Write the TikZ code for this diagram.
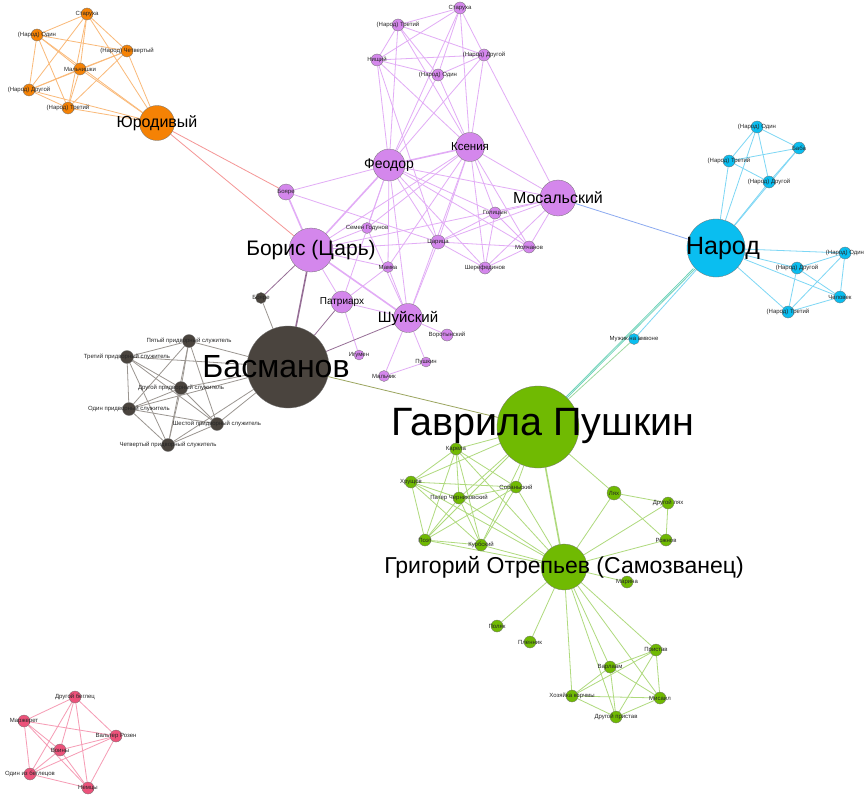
\documentclass[tikz,border=0pt]{standalone}
\usepackage{fontspec}
\setmainfont{Liberation Sans}
\usetikzlibrary{backgrounds}
\definecolor{orF}{RGB}{245,130,5}
\definecolor{orE}{RGB}{250,185,120}
\definecolor{puF}{RGB}{212,135,236}
\definecolor{puE}{RGB}{226,172,246}
\definecolor{blF}{RGB}{10,190,240}
\definecolor{blE}{RGB}{125,215,245}
\definecolor{grF}{RGB}{112,186,2}
\definecolor{grE}{RGB}{175,218,125}
\definecolor{dkF}{RGB}{74,68,62}
\definecolor{dkE}{RGB}{155,150,145}
\definecolor{pkF}{RGB}{236,82,122}
\definecolor{pkE}{RGB}{246,155,180}
\definecolor{mixPD}{RGB}{150,110,150}
\definecolor{mixGD}{RGB}{155,165,95}
\definecolor{mixPB}{RGB}{140,170,240}
\definecolor{mixGB}{RGB}{110,210,185}
\definecolor{mixOP}{RGB}{245,150,150}
\tikzset{
  v/.style={circle, draw=black!55, line width=0.3pt, inner sep=0pt, minimum size=#1},
  lab/.style={font=\fontsize{6}{7}\selectfont, text=black!85, inner sep=0pt},
  big/.style={font=\fontsize{#1}{#1}\selectfont, text=black, inner sep=0pt},
  e/.style={line width=0.8pt},
  ee/.style={line width=1.6pt}
}
% name, position, diameter, fill, label
\newcommand{\sv}[5]{\node[v=#3, fill=#4, label={[lab]center:{#5}}] (#1) at (#2) {};}
\begin{document}
\begin{tikzpicture}[x=1pt,y=-1pt]
\useasboundingbox (0,0) rectangle (864,797);

% ---- orange group
\sv{o1}{87,14}{12}{orF}{Старуха}
\sv{o2}{37,35}{12}{orF}{(Народ) Один}
\sv{o3}{127,51}{12}{orF}{(Народ) Четвертый}
\sv{o4}{80,69}{12}{orF}{Мальчишки}
\sv{o5}{29,90}{12}{orF}{(Народ) Другой}
\sv{o6}{68,108}{12}{orF}{(Народ) Третий}
\node[v=35, fill=orF, label={[big=16]center:Юродивый}] (yur) at (157,123) {};

% ---- violet group
\sv{p1}{460,8}{12}{puF}{Старуха}
\sv{p2}{398,25}{12}{puF}{(Народ) Третий}
\sv{p3}{377,60}{12}{puF}{Нищий}
\sv{p4}{484,55}{12}{puF}{(Народ) Другой}
\sv{p5}{438,75}{12}{puF}{(Народ) Один}
\node[v=29, fill=puF, label={[big=11.5]center:Ксения}] (ks) at (470,147) {};
\node[v=32, fill=puF, label={[big=14]center:Феодор}] (feo) at (389,165) {};
\node[v=36, fill=puF, label={[big=16]center:Мосальский}] (mos) at (558,198) {};
\sv{boy}{286,192}{16}{puF}{Бояре}
\node[v=44, fill=puF, label={[big=21]center:{Борис (Царь)}}] (bor) at (311,250) {};
\sv{sem}{367,228}{11}{puF}{Семен Годунов}
\sv{car}{438,242}{14}{puF}{Царица}
\sv{gol}{495,213}{12}{puF}{Голицын}
\sv{mol}{529,247}{12}{puF}{Молчанов}
\sv{sher}{485,268}{12}{puF}{Шерефединов}
\sv{mam}{388,267}{11}{puF}{Мамка}
\node[v=22, fill=puF, label={[big=10]center:Патриарх}] (pat) at (342,302) {};
\node[v=29, fill=puF, label={[big=15]center:Шуйский}] (shu) at (408,318) {};
\sv{vor}{447,335}{12}{puF}{Воротынский}
\sv{pus}{426,362}{10}{puF}{Пушкин}
\sv{igu}{359,355}{10}{puF}{Игумен}
\sv{mal}{384,376}{11}{puF}{Мальчик}

% ---- dark group
\node[v=82, fill=dkF, label={[big=32, xshift=-12pt]center:Басманов}] (bas) at (288,367) {};
\sv{dboy}{261,298}{11}{dkF}{Бояре}
\sv{d5}{189,341}{13}{dkF}{Пятый придворный служитель}
\sv{d3}{127,357}{13}{dkF}{Третий придворный служитель}
\sv{d2}{181,388}{13}{dkF}{Другой придворный служитель}
\sv{d1}{129,409}{13}{dkF}{Один придворный служитель}
\sv{d6}{217,424}{13}{dkF}{Шестой придворный служитель}
\sv{d4}{168,445}{13}{dkF}{Четвертый придворный служитель}

% ---- blue group
\node[v=58, fill=blF, label={[big=25, xshift=7pt]center:Народ}] (nar) at (716,248) {};
\sv{b1}{757,127}{12}{blF}{(Народ) Один}
\sv{b2}{799,148}{12}{blF}{Баба}
\sv{b3}{729,161}{12}{blF}{(Народ) Третий}
\sv{b4}{769,182}{12}{blF}{(Народ) Другой}
\sv{b5}{845,253}{12}{blF}{(Народ) Один}
\sv{b6}{797,268}{12}{blF}{(Народ) Другой}
\sv{b7}{840,297}{12}{blF}{Человек}
\sv{b8}{788,312}{12}{blF}{(Народ) Третий}
\sv{muz}{634,339}{11}{blF}{Мужик на амвоне}

% ---- green group
\node[v=82, fill=grF, label={[big=39.5, xshift=5pt, yshift=1pt]center:{Гаврила Пушкин}}] (gav) at (538,427) {};
\node[v=46, fill=grF, label={[big=23]center:{Григорий Отрепьев (Самозванец)}}] (gri) at (564,567) {};
\sv{kar}{456,449}{12}{grF}{Карела}
\sv{hru}{411,482}{12}{grF}{Хрущов}
\sv{sob}{516,487}{12}{grF}{Собаньский}
\sv{pat2}{459,498}{12}{grF}{Патер Черниковский}
\sv{poe}{425,540}{12}{grF}{Поэт}
\sv{kur}{481,545}{12}{grF}{Курбский}
\sv{lya}{614,493}{14}{grF}{Лях}
\sv{dly}{668,503}{12}{grF}{Другой лях}
\sv{roz}{666,540}{12}{grF}{Рожнов}
\sv{mar}{627,582}{12}{grF}{Марина}
\sv{pol}{497,626}{12}{grF}{Поляк}
\sv{ple}{530,642}{12}{grF}{Пленник}
\sv{pri}{656,650}{12}{grF}{Пристав}
\sv{var}{610,667}{12}{grF}{Варлаам}
\sv{hoz}{572,696}{12}{grF}{Хозяйка корчмы}
\sv{mis}{660,698}{12}{grF}{Мисаил}
\sv{dpr}{616,717}{12}{grF}{Другой пристав}

% ---- pink group
\sv{k1}{75,697}{12}{pkF}{Другой беглец}
\sv{k2}{24,721}{12}{pkF}{Маржерет}
\sv{k3}{116,736}{12}{pkF}{Вальтер Розен}
\sv{k4}{60,750}{12}{pkF}{Воины}
\sv{k5}{30,774}{12}{pkF}{Один из беглецов}
\sv{k6}{88,788}{12}{pkF}{Немцы}

\begin{pgfonlayer}{background}
\fill[white] (0,0) rectangle (864,797);
% orange links
\foreach \a/\b in {o1/o2,o1/o3,o1/o4,o1/o5,o1/o6,o1/yur,o2/o3,o2/o4,o2/o5,o2/o6,o2/yur,
  o3/o4,o3/o5,o3/o6,o3/yur,o4/o5,o4/o6,o4/yur,o5/o6,o5/yur,o6/yur}
  \draw[e, orE] (\a) -- (\b);
\draw[e, mixOP] (yur) -- (boy);
\draw[e, mixOP] (yur) -- (bor);
% violet links
\foreach \a/\b in {p1/p2,p1/p3,p1/p4,p1/p5,p2/p3,p2/p4,p2/p5,p3/p5,p4/p5,p3/p4,
  p1/feo,p2/feo,p3/feo,p4/feo,p5/feo,p1/ks,p2/ks,p3/ks,p4/ks,p5/ks,p3/car,p4/mos,
  feo/boy,feo/sem,feo/car,feo/mam,feo/shu,feo/mos,feo/gol,feo/mol,feo/sher,feo/pat,
  ks/bor,ks/sem,ks/car,ks/mos,ks/gol,ks/mol,ks/sher,ks/mam,ks/shu,
  bor/sem,bor/car,bor/mam,bor/pat,bor/mos,boy/car,
  shu/pat,shu/vor,shu/pus,shu/mal,shu/car,shu/mam,shu/sem,pat/igu,pat/mam,
  mos/gol,mos/mol,mos/sher,mos/car,gol/mol,gol/sher,mol/sher,car/gol,car/mol,car/sher,pus/mal}
  \draw[e, puE] (\a) -- (\b);
\foreach \a/\b in {feo/ks,feo/bor,bor/boy,bor/shu}
  \draw[ee, puE] (\a) -- (\b);
% dark links
\foreach \a/\b in {d1/d2,d1/d3,d1/d4,d1/d5,d1/d6,d2/d3,d2/d4,d2/d5,d2/d6,d3/d4,d3/d5,d3/d6,
  d4/d5,d4/d6,d5/d6,d1/bas,d2/bas,d3/bas,d4/bas,d5/bas,d6/bas,dboy/bas}
  \draw[e, dkE] (\a) -- (\b);
\draw[e, mixPD] (dboy) -- (bor);
\draw[ee, mixPD] (bas) -- (bor);
\draw[e, mixPD] (bas) -- (pat);
\draw[e, mixPD] (bas) -- (shu);
\draw[e, mixGD] (bas) -- (gav);
% blue links
\foreach \a/\b in {b1/b2,b1/b3,b1/b4,b2/b3,b2/b4,b3/b4,b1/nar,b2/nar,b3/nar,b4/nar,
  b5/b6,b5/b7,b5/b8,b6/b7,b6/b8,b7/b8,b5/nar,b6/nar,b7/nar,b8/nar,muz/nar}
  \draw[e, blE] (\a) -- (\b);
\draw[e, mixPB] (mos) -- (nar);
\draw[e, mixGB] ([xshift=-2pt]gav.north east) -- ([xshift=-2pt]nar.south west);
\draw[e, mixGB] (gav) -- (nar);
\draw[e, grE!70!blE] (muz) -- (gav);
% green links
\foreach \a/\b in {gav/kar,gav/hru,gav/sob,gav/pat2,gav/poe,gav/kur,gav/lya,
  kar/hru,kar/sob,kar/pat2,kar/poe,kar/kur,hru/sob,hru/pat2,hru/poe,hru/kur,
  sob/pat2,sob/poe,sob/kur,pat2/poe,pat2/kur,poe/kur,
  hru/gri,poe/gri,kur/gri,sob/gri,kar/gri,pat2/gri,
  gri/lya,gri/dly,gri/roz,gri/mar,gri/pol,gri/ple,gri/pri,gri/var,gri/hoz,gri/mis,gri/dpr,
  lya/dly,lya/roz,dly/roz,
  pri/var,pri/hoz,pri/mis,pri/dpr,var/hoz,var/mis,var/dpr,hoz/mis,hoz/dpr,mis/dpr}
  \draw[e, grE] (\a) -- (\b);
\draw[ee, grE] (gav) -- (gri);
% pink links
\foreach \a/\b in {k1/k2,k1/k3,k1/k4,k1/k5,k1/k6,k2/k3,k2/k4,k2/k5,k2/k6,
  k3/k4,k3/k5,k3/k6,k4/k5,k4/k6,k5/k6}
  \draw[e, pkE] (\a) -- (\b);
\end{pgfonlayer}
\end{tikzpicture}
\end{document}
